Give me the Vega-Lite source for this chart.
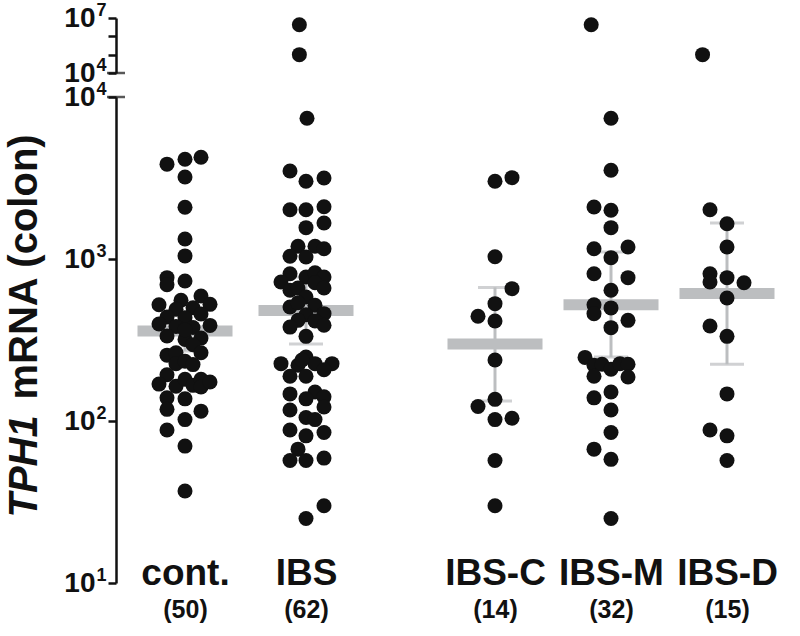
{
"$schema": "https://vega.github.io/schema/vega-lite/v6.json",
"padding": {"left": 3, "top": 1, "right": 5, "bottom": 5},
"background": "white",
"bounds": "flush",
"spacing": 24,
"config": {"view": {"stroke": null}, "axis": {"grid": false}},
"datasets": {
"pts": [
{"g":"cont","x":51,"v":3850},{"g":"cont","x":69,"v":4125},{"g":"cont","x":85,"v":4245},{"g":"cont","x":69,"v":3210},{"g":"cont","x":69,"v":2085},{"g":"cont","x":69,"v":1330},{"g":"cont","x":69,"v":1045},{"g":"cont","x":51,"v":767},{"g":"cont","x":51,"v":694},{"g":"cont","x":69,"v":731},
{"g":"cont","x":43,"v":522},{"g":"cont","x":65,"v":556},{"g":"cont","x":85,"v":591},{"g":"cont","x":77,"v":500},{"g":"cont","x":94,"v":525},{"g":"cont","x":60,"v":489},{"g":"cont","x":51,"v":438},{"g":"cont","x":69,"v":434},{"g":"cont","x":85,"v":458},{"g":"cont","x":43,"v":397},
{"g":"cont","x":60,"v":383},{"g":"cont","x":77,"v":378},{"g":"cont","x":94,"v":389},{"g":"cont","x":51,"v":335},{"g":"cont","x":69,"v":319},{"g":"cont","x":85,"v":325},{"g":"cont","x":77,"v":296},{"g":"cont","x":51,"v":255},{"g":"cont","x":60,"v":264},{"g":"cont","x":85,"v":264},
{"g":"cont","x":60,"v":226},{"g":"cont","x":69,"v":234},{"g":"cont","x":77,"v":223},{"g":"cont","x":51,"v":193},{"g":"cont","x":43,"v":169},{"g":"cont","x":60,"v":164},{"g":"cont","x":69,"v":181},{"g":"cont","x":77,"v":166},{"g":"cont","x":85,"v":181},{"g":"cont","x":85,"v":162},
{"g":"cont","x":94,"v":174},{"g":"cont","x":51,"v":139},{"g":"cont","x":69,"v":137},{"g":"cont","x":51,"v":118},{"g":"cont","x":85,"v":115},{"g":"cont","x":69,"v":102},{"g":"cont","x":51,"v":88},{"g":"cont","x":69,"v":70},{"g":"cont","x":69,"v":37},{"g":"cont","x":69,"v":365},
{"g":"IBS","x":174,"v":3493},{"g":"IBS","x":190,"v":3017},{"g":"IBS","x":208,"v":3162},{"g":"IBS","x":174,"v":2015},{"g":"IBS","x":190,"v":2015},{"g":"IBS","x":208,"v":2103},{"g":"IBS","x":190,"v":1561},{"g":"IBS","x":208,"v":1668},{"g":"IBS","x":182,"v":1198},{"g":"IBS","x":199,"v":1198},
{"g":"IBS","x":208,"v":1158},{"g":"IBS","x":174,"v":1040},{"g":"IBS","x":190,"v":1029},{"g":"IBS","x":174,"v":811},{"g":"IBS","x":165,"v":721},{"g":"IBS","x":190,"v":774},{"g":"IBS","x":199,"v":823},{"g":"IBS","x":208,"v":774},{"g":"IBS","x":199,"v":714},{"g":"IBS","x":208,"v":662},
{"g":"IBS","x":174,"v":641},{"g":"IBS","x":182,"v":662},{"g":"IBS","x":190,"v":583},{"g":"IBS","x":174,"v":505},{"g":"IBS","x":182,"v":537},{"g":"IBS","x":199,"v":518},{"g":"IBS","x":190,"v":453},{"g":"IBS","x":208,"v":460},{"g":"IBS","x":182,"v":418},{"g":"IBS","x":199,"v":414},
{"g":"IBS","x":174,"v":380},{"g":"IBS","x":208,"v":390},{"g":"IBS","x":190,"v":333},{"g":"IBS","x":165,"v":226},{"g":"IBS","x":182,"v":221},{"g":"IBS","x":190,"v":248},{"g":"IBS","x":199,"v":226},{"g":"IBS","x":216,"v":226},{"g":"IBS","x":208,"v":207},{"g":"IBS","x":174,"v":189},
{"g":"IBS","x":190,"v":189},{"g":"IBS","x":174,"v":147},{"g":"IBS","x":199,"v":151},{"g":"IBS","x":190,"v":137},{"g":"IBS","x":208,"v":141},{"g":"IBS","x":208,"v":122},{"g":"IBS","x":174,"v":117},{"g":"IBS","x":190,"v":105},{"g":"IBS","x":199,"v":102},{"g":"IBS","x":174,"v":88},
{"g":"IBS","x":190,"v":81},{"g":"IBS","x":208,"v":85},{"g":"IBS","x":182,"v":67},{"g":"IBS","x":174,"v":57},{"g":"IBS","x":190,"v":57},{"g":"IBS","x":208,"v":59},{"g":"IBS","x":208,"v":30},{"g":"IBS","x":190,"v":25},{"g":"IBS","x":191,"v":7400},{"g":"IBS","x":191,"v":4300000},
{"g":"IBS","x":191,"v":100000},{"g":"IBS","x":186,"v":238},
{"g":"IBS-C","x":379,"v":3017},{"g":"IBS-C","x":396,"v":3177},{"g":"IBS-C","x":379,"v":1033},{"g":"IBS-C","x":396,"v":656},{"g":"IBS-C","x":379,"v":530},{"g":"IBS-C","x":362,"v":443},{"g":"IBS-C","x":379,"v":414},{"g":"IBS-C","x":379,"v":238},{"g":"IBS-C","x":379,"v":136},{"g":"IBS-C","x":362,"v":123},
{"g":"IBS-C","x":379,"v":102},{"g":"IBS-C","x":396,"v":104},{"g":"IBS-C","x":379,"v":57},{"g":"IBS-C","x":379,"v":30},
{"g":"IBS-M","x":495,"v":3529},{"g":"IBS-M","x":478,"v":2094},{"g":"IBS-M","x":495,"v":1998},{"g":"IBS-M","x":495,"v":1561},{"g":"IBS-M","x":478,"v":1158},{"g":"IBS-M","x":512,"v":1186},{"g":"IBS-M","x":495,"v":1019},{"g":"IBS-M","x":478,"v":811},{"g":"IBS-M","x":512,"v":767},{"g":"IBS-M","x":495,"v":641},
{"g":"IBS-M","x":478,"v":522},{"g":"IBS-M","x":478,"v":460},{"g":"IBS-M","x":495,"v":499},{"g":"IBS-M","x":512,"v":418},{"g":"IBS-M","x":495,"v":377},{"g":"IBS-M","x":469,"v":247},{"g":"IBS-M","x":478,"v":221},{"g":"IBS-M","x":486,"v":224},{"g":"IBS-M","x":495,"v":209},{"g":"IBS-M","x":504,"v":226},
{"g":"IBS-M","x":512,"v":224},{"g":"IBS-M","x":478,"v":189},{"g":"IBS-M","x":512,"v":187},{"g":"IBS-M","x":495,"v":151},{"g":"IBS-M","x":478,"v":139},{"g":"IBS-M","x":495,"v":117},{"g":"IBS-M","x":495,"v":85},{"g":"IBS-M","x":478,"v":67},{"g":"IBS-M","x":495,"v":58},{"g":"IBS-M","x":495,"v":25},
{"g":"IBS-M","x":495,"v":7400},{"g":"IBS-M","x":495,"v":4300000},
{"g":"IBS-D","x":594,"v":2015},{"g":"IBS-D","x":611,"v":1652},{"g":"IBS-D","x":611,"v":1186},{"g":"IBS-D","x":594,"v":811},{"g":"IBS-D","x":594,"v":721},{"g":"IBS-D","x":611,"v":767},{"g":"IBS-D","x":628,"v":714},{"g":"IBS-D","x":611,"v":574},{"g":"IBS-D","x":594,"v":386},{"g":"IBS-D","x":611,"v":333},
{"g":"IBS-D","x":611,"v":147},{"g":"IBS-D","x":594,"v":88},{"g":"IBS-D","x":611,"v":81},{"g":"IBS-D","x":611,"v":57},{"g":"IBS-D","x":611,"v":100000}
],
"stats": [
{"g":"cont","x":69,"mean":359,"lo":270,"hi":471},
{"g":"IBS","x":190,"mean":481,"lo":299,"hi":774},
{"g":"IBS-C","x":379,"mean":299,"lo":133,"hi":668},
{"g":"IBS-M","x":495,"mean":522,"lo":248,"hi":1104},
{"g":"IBS-D","x":611,"mean":612,"lo":224,"hi":1667}
],
"brk": [{"x":0,"v":10000}]
},
"vconcat": [
{
"width": 672, "height": 55,
"layer": [
{
"data": {"name": "pts"},
"transform": [{"filter": "datum.v > 10000"}],
"mark": {"type": "circle", "size": 225, "color": "#111", "opacity": 1},
"encoding": {
"x": {"field": "x", "type": "quantitative", "scale": {"domain": [0, 672]}, "axis": null},
"y": {"field": "v", "type": "quantitative", "scale": {"type": "log", "domain": [10000, 10000000]},
"axis": {"values": [10000, 100000, 1000000, 10000000], "labelExpr": "datum.value > 9e6 || datum.value < 2e4 ? '10' : ''", "title": null, "tickSize": 8, "tickWidth": 2.5, "domainWidth": 2.5, "domainColor": "#111", "tickColor": "#111", "labelFont": "Liberation Sans", "labelFontWeight": "bold", "labelFontSize": 28, "labelColor": "#111", "labelPadding": 13, "labelOverlap": false, "labelFlush": false}}
}
},
{
"data": {"name": "brk"},
"mark": {"type": "tick", "orient": "horizontal", "size": 18, "thickness": 2.5, "color": "#111"},
"encoding": {
"x": {"field": "x", "type": "quantitative"},
"y": {"field": "v", "type": "quantitative", "scale": {"type": "log", "domain": [10000, 10000000]},
"axis": {"orient": "left", "values": [10000, 10000000], "labelExpr": "datum.value > 9e6 ? '7' : '4'", "title": null, "domain": false, "ticks": true, "tickSize": 8, "tickOpacity": 0, "labelFont": "Liberation Sans", "labelFontWeight": "bold", "labelFontSize": 18, "labelColor": "#111", "labelPadding": 2, "labelOffset": -8, "labelOverlap": false, "labelFlush": false}}
}
}
],
"resolve": {"scale": {"y": "independent"}}
},
{
"width": 672, "height": 486,
"layer": [
{
"data": {"name": "stats"},
"encoding": {
"x": {"field": "x", "type": "quantitative", "scale": {"domain": [0, 672]},
"axis": {"orient": "bottom", "values": [69, 190, 379, 495, 611], "labelExpr": "datum.value == 69 ? '(50)' : datum.value == 190 ? '(62)' : datum.value == 379 ? '(14)' : datum.value == 495 ? '(32)' : '(15)'", "ticks": false, "tickSize": 0, "domain": false, "title": null, "labelFont": "Liberation Sans", "labelFontWeight": "bold", "labelFontSize": 25, "labelColor": "#111", "labelBaseline": "alphabetic", "labelPadding": 34, "labelAngle": 0, "labelOverlap": false, "labelFlush": false}}
},
"layer": [
{
"mark": {"type": "rule", "color": "#bcbec0", "strokeWidth": 3},
"encoding": {
"y": {"field": "lo", "type": "quantitative", "scale": {"type": "log", "domain": [10, 10000]},
"axis": {"orient": "left", "values": [10, 100, 1000, 10000], "labelExpr": "datum.value < 20 ? '1' : datum.value < 200 ? '2' : datum.value < 2000 ? '3' : '4'", "domain": false, "ticks": true, "tickSize": 8, "tickOpacity": 0, "labelFont": "Liberation Sans", "labelFontWeight": "bold", "labelFontSize": 18, "labelColor": "#111", "labelPadding": 2, "labelOffset": -8, "labelOverlap": false, "labelFlush": false,
"title": "TPH1", "titleFont": "Liberation Sans", "titleFontWeight": "bold", "titleFontStyle": "italic", "titleFontSize": 40, "titleColor": "#111", "titleAngle": 270, "titleAlign": "left", "titleBaseline": "alphabetic", "titleX": -80, "titleY": 420}},
"y2": {"field": "hi"}
}
},
{
"mark": {"type": "tick", "orient": "horizontal", "size": 34, "thickness": 3, "color": "#bcbec0"},
"encoding": {"y": {"field": "lo", "type": "quantitative"}}
},
{
"mark": {"type": "tick", "orient": "horizontal", "size": 34, "thickness": 3, "color": "#bcbec0"},
"encoding": {"y": {"field": "hi", "type": "quantitative"}}
},
{
"mark": {"type": "tick", "orient": "horizontal", "size": 95, "thickness": 11, "color": "#bcbec0", "opacity": 1},
"encoding": {"y": {"field": "mean", "type": "quantitative"}}
}
]
},
{
"data": {"name": "pts"},
"transform": [{"filter": "datum.v <= 10000"}],
"layer": [
{
"mark": {"type": "circle", "size": 225, "color": "#111", "opacity": 1},
"encoding": {
"x": {"field": "x", "type": "quantitative", "scale": {"domain": [0, 672]},
"axis": {"orient": "bottom", "values": [69, 190, 379, 495, 611], "labelExpr": "datum.value == 69 ? 'cont.' : datum.value == 190 ? 'IBS' : datum.value == 379 ? 'IBS-C' : datum.value == 495 ? 'IBS-M' : 'IBS-D'", "ticks": false, "tickSize": 0, "domain": false, "title": null, "labelFont": "Liberation Sans", "labelFontWeight": "bold", "labelFontSize": 37, "labelColor": "#111", "labelBaseline": "alphabetic", "labelPadding": 1, "labelAngle": 0, "labelOverlap": false, "labelFlush": false}},
"y": {"field": "v", "type": "quantitative", "scale": {"type": "log", "domain": [10, 10000]},
"axis": {"orient": "left", "values": [10, 100, 1000, 10000], "labelExpr": "'10'", "tickSize": 8, "tickWidth": 2.5, "domainWidth": 2.5, "domainColor": "#111", "tickColor": "#111", "labelFont": "Liberation Sans", "labelFontWeight": "bold", "labelFontSize": 28, "labelColor": "#111", "labelPadding": 13, "labelOverlap": false, "labelFlush": false,
"title": "mRNA (colon)", "titleFont": "Liberation Sans", "titleFontWeight": "bold", "titleFontSize": 40, "titleColor": "#111", "titleAngle": 270, "titleAlign": "left", "titleBaseline": "alphabetic", "titleX": -80, "titleY": 302}}
}
}
]
},
{
"data": {"name": "brk"},
"mark": {"type": "tick", "orient": "horizontal", "size": 18, "thickness": 2.5, "color": "#111"},
"encoding": {
"x": {"field": "x", "type": "quantitative", "scale": {"domain": [0, 672]}, "axis": null},
"y": {"field": "v", "type": "quantitative", "scale": {"type": "log", "domain": [10, 10000]}, "axis": null}
}
}
],
"resolve": {"scale": {"x": "independent", "y": "independent"}}
}
]
}
